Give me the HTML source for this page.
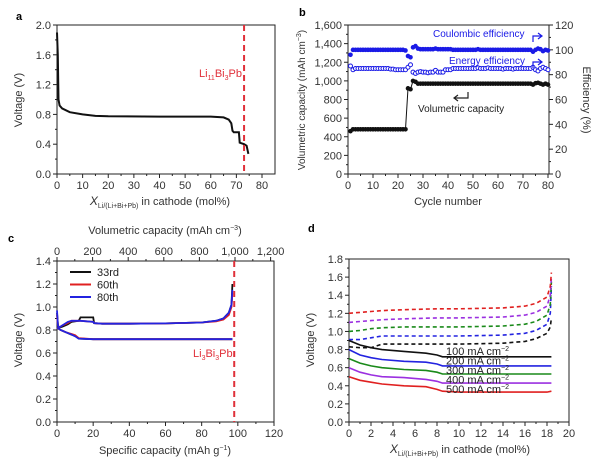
<!DOCTYPE html>
<html><head><meta charset="utf-8">
<style>
html,body{margin:0;padding:0;background:#fff;}
svg{display:block;font-family:"Liberation Sans",Arial,sans-serif;}
</style></head>
<body>
<svg id="fig" width="600" height="468" viewBox="0 0 600 468" xmlns="http://www.w3.org/2000/svg"></svg>
<script>
// ---------- Panel a data ----------
const aX = [0,0.3,0.6,1,2,5,10,15,20,40,60,65,67,68,68.5,69,71,71.3,73,74,74.5,74.7];
const aV = [1.9,1.6,1.0,0.92,0.88,0.83,0.80,0.78,0.775,0.77,0.77,0.76,0.73,0.68,0.58,0.56,0.56,0.42,0.40,0.38,0.30,0.27];
const aXTicks = [0,10,20,30,40,50,60,70,80];
const aYTicks = [0,0.4,0.8,1.2,1.6,2.0];
// ---------- Panel b data ----------
const bCycles = [1,2,3,4,5,6,7,8,9,10,11,12,13,14,15,16,17,18,19,20,21,22,23,24,25,26,27,28,29,30,31,32,33,34,35,36,37,38,39,40,41,42,43,44,45,46,47,48,49,50,51,52,53,54,55,56,57,58,59,60,61,62,63,64,65,66,67,68,69,70,71,72,73,74,75,76,77,78,79,80];
const bCapacity = [460,480,480,480,480,480,480,480,480,480,480,480,480,480,480,480,480,480,480,480,480,480,480,920,910,1000,990,970,970,970,970,970,970,970,970,970,970,970,970,970,970,970,970,970,970,970,970,970,970,970,970,970,970,970,970,970,970,970,970,970,970,970,970,970,970,970,970,970,970,970,970,970,970,960,975,980,970,960,970,960];
const bCE = [96,100,100,100,100,100,100,100,100,100,100,100,100,100,100,100,100,100,100,100,100,100,99.5,95,94,102,103,101,100.5,100.5,100.5,100.5,100.5,100.5,101,100.5,100.5,100.5,100.5,100.5,100.5,100,100,100,100,100,100,100,100,100,100,100.5,100,100,100,100,100,100,100,100,100,100,100,100,100,100,100,100,100,100,100,100,100,98.5,100,101,100.5,99,100,99.5];
const bEE = [87,84,85,85,85,85,85,85,85,85,85,85,85,85,85,85,84.5,84.5,84,84,84,84,84,86,88,82,81,82,82.5,82,82,81.5,82,82,83.5,82,82,82,84,84,84,85,85,85,85,85,85,85,85,85,85,85.5,85,85,85,85.5,85,85,85,85,85,84.5,85,85,85,84.5,85,85,85,85,85,85,85,86,84,83,85,86,85,84];
const bXTicks = [0,10,20,30,40,50,60,70,80];
const bYTicks = [0,200,400,600,800,1000,1200,1400,1600];
const bYTickLabels = ["0","200","400","600","800","1,000","1,200","1,400","1,600"];
const bY2Ticks = [0,20,40,60,80,100,120];
// ---------- Panel c data ----------
const cChX = [0,0.5,1,3,6,8,12,13,20,20.5,25,40,60,80,88,92,95,96.5,97];
const cCh33 = [0.95,0.85,0.82,0.83,0.85,0.87,0.88,0.91,0.91,0.86,0.855,0.855,0.857,0.865,0.88,0.9,0.95,1.02,1.2];
const cCh60 = [0.93,0.84,0.82,0.84,0.86,0.88,0.88,0.88,0.87,0.86,0.855,0.855,0.857,0.865,0.875,0.89,0.93,1.0,1.12];
const cCh80 = [0.97,0.84,0.82,0.84,0.87,0.88,0.88,0.88,0.87,0.86,0.855,0.855,0.857,0.865,0.88,0.9,0.95,1.02,1.15];
const cDisX = [0,2,5,8,10,12,20,50,97];
const cDis33 = [0.82,0.8,0.78,0.76,0.75,0.725,0.72,0.72,0.72];
const cDis60 = [0.82,0.8,0.78,0.765,0.755,0.73,0.72,0.72,0.72];
const cDis80 = [0.82,0.8,0.78,0.76,0.745,0.725,0.72,0.72,0.72];
const cXTicks = [0,20,40,60,80,100,120];
const cYTicks = [0,0.2,0.4,0.6,0.8,1.0,1.2,1.4];
const cTopTicks = [0,200,400,600,800,1000,1200];
const cTopLabels = ["0","200","400","600","800","1,000","1,200"];
// ---------- Panel d data ----------
const dDisX = [0,1,2,3,5,7,8,8.5,10,14,16,17,18,18.4];
const dDis100 = [0.9,0.85,0.82,0.80,0.78,0.76,0.74,0.72,0.72,0.72,0.72,0.72,0.72,0.72];
const dDis200 = [0.80,0.74,0.71,0.69,0.67,0.66,0.64,0.62,0.62,0.62,0.62,0.62,0.62,0.62];
const dDis300 = [0.70,0.65,0.62,0.60,0.58,0.57,0.55,0.53,0.53,0.53,0.53,0.53,0.53,0.53];
const dDis400 = [0.60,0.55,0.52,0.50,0.49,0.47,0.45,0.43,0.43,0.43,0.43,0.43,0.43,0.43];
const dDis500 = [0.50,0.46,0.44,0.42,0.40,0.39,0.36,0.34,0.33,0.33,0.33,0.33,0.33,0.34];
const dChX = [0,1,2,3,5,8,10,14,16,17,18,18.3,18.4];
const dCh100 = [0.83,0.82,0.82,0.86,0.86,0.86,0.86,0.87,0.89,0.92,0.98,1.05,1.15];
const dCh200 = [0.91,0.91,0.93,0.95,0.95,0.95,0.95,0.96,0.98,1.01,1.08,1.2,1.5];
const dCh300 = [1.0,1.01,1.03,1.04,1.05,1.05,1.05,1.06,1.08,1.11,1.18,1.3,1.55];
const dCh400 = [1.1,1.11,1.12,1.13,1.14,1.15,1.15,1.16,1.18,1.21,1.28,1.4,1.6];
const dCh500 = [1.2,1.21,1.22,1.23,1.24,1.25,1.25,1.26,1.28,1.31,1.38,1.5,1.65];
const dXTicks = [0,2,4,6,8,10,12,14,16,18,20];
const dYTicks = [0,0.2,0.4,0.6,0.8,1.0,1.2,1.4,1.6,1.8];

const NS="http://www.w3.org/2000/svg";
const fig=document.getElementById('fig');
function mk(tag,attrs,parent){const e=document.createElementNS(NS,tag);for(const k in attrs)e.setAttribute(k,attrs[k]);(parent||fig).appendChild(e);return e;}
function txt(x,y,s,size,anchor,color,parent,rot){const e=mk('text',{x:x,y:y,'font-size':size,'text-anchor':anchor||'middle',fill:color||'#333'},parent);if(rot)e.setAttribute('transform','rotate('+rot+' '+x+' '+y+')');e.innerHTML=s;return e;}
function scale(d0,d1,r0,r1){return v=>r0+(v-d0)/(d1-d0)*(r1-r0);}
function pathD(xs,ys,sx,sy){return xs.map((x,i)=>(i?'L':'M')+sx(x).toFixed(1)+' '+sy(ys[i]).toFixed(1)).join(' ');}

function frame(g,L,T,R,B){
  const f=mk('rect',{x:L,y:T,width:R-L,height:B-T,fill:'none',stroke:'#222','stroke-width':1},g);
  
  
}
function xAxis(g,ticks,sx,y,labels,below){
  const ax=mk('g',{},g);
  
  
  ticks.forEach((t,i)=>{const x=sx(t);
    mk('line',{x1:x,x2:x,y1:y,y2:below?y+4:y-4,stroke:'#222'},ax);
    if(i<ticks.length-1){const xm=sx((t+ticks[i+1])/2);mk('line',{x1:xm,x2:xm,y1:y,y2:below?y+2:y-2,stroke:'#222'},ax);}
    const lb=txt(x,below?y+15:y-6,labels?labels[i]:String(t),11,'middle','#333',ax);
    
    
  });
}
function yAxis(g,ticks,sy,x,labels,right,dec){
  const ax=mk('g',{},g);
  
  
  ticks.forEach((t,i)=>{const y=sy(t);
    mk('line',{x1:x,x2:right?x+4:x-4,y1:y,y2:y,stroke:'#222'},ax);
    if(i<ticks.length-1){const ym=sy((t+ticks[i+1])/2);mk('line',{x1:x,x2:right?x+2:x-2,y1:ym,y2:ym,stroke:'#222'},ax);}
    const s=labels?labels[i]:(dec?t.toFixed(dec):String(t));
    const lb=txt(right?x+6:x-6,y+4,s,11,right?'start':'end','#333',ax);
    
    
  });
}
function panelLabel(x,y,s){const e=txt(x,y,s,11,'start','#000');e.setAttribute('font-weight','bold');}
function series(g,xs,ys,sx,sy,color,w,dash,name){
  const p=mk('path',{d:pathD(xs,ys,sx,sy),fill:'none',stroke:color,'stroke-width':w||1.5},g);
  if(dash)p.setAttribute('stroke-dasharray',dash);
  
  
  return p;
}

// ================= Panel a =================
(function(){
  const g=mk('g',{});
  const L=57,R=275,T=25,B=174;
  const sx=scale(0,80,57,262), sy=scale(0,2,B,T);
  frame(g,L,T,R,B);
  xAxis(g,aXTicks,sx,B,null,true);
  yAxis(g,aYTicks,sy,L,null,false,1);
  series(g,aX,aV,sx,sy,'#111',2,null,'voltage-curve');
  const dl=mk('line',{x1:sx(73),x2:sx(73),y1:T,y2:B,stroke:'#e0303a','stroke-width':2,'stroke-dasharray':'6,4'},g);
  
  const t=txt(199,77,'Li<tspan font-size="7" dy="3">11</tspan><tspan dy="-3">Bi</tspan><tspan font-size="7" dy="3">3</tspan><tspan dy="-3">Pb</tspan>',11,'start','#e0303a',g);
  
  const yt=txt(22,100,'Voltage (V)',11,'middle','#333',g,-90);
  const xt=txt(160,205,'<tspan font-style="italic" font-size="12">X</tspan><tspan font-size="7" dy="3">Li/(Li+Bi+Pb)</tspan><tspan dy="-3"> in cathode (mol%)</tspan>',11,'middle','#333',g);
  
})();
panelLabel(16,20,'a');

// ================= Panel b =================
(function(){
  const g=mk('g',{});
  const L=348,R=549,T=25,B=174;
  const sx=scale(0,80,348,548), sy=scale(0,1600,B,T), sy2=scale(0,120,B,T);
  frame(g,L,T,R,B);
  xAxis(g,bXTicks,sx,B,null,true);
  yAxis(g,bYTicks,sy,L,bYTickLabels,false);
  yAxis(g,bY2Ticks,sy2,R,null,true);
  series(g,bCycles,bCapacity,sx,sy,'#111',1,null,'volumetric-capacity-line');
  bCycles.forEach((c,i)=>{
    const p=mk('circle',{cx:sx(c),cy:sy(bCapacity[i]),r:2.3,fill:'#111'},g);
    
    const q=mk('circle',{cx:sx(c),cy:sy2(bCE[i]),r:2.3,fill:'#1a1ae6'},g);
    
    const r=mk('circle',{cx:sx(c),cy:sy2(bEE[i]),r:2,fill:'#fff',stroke:'#1a1ae6','stroke-width':1},g);
    
  });
  let t=txt(433,37,'Coulombic efficiency',10,'start','#1a1ae6',g);
  let a=mk('path',{d:'M533 42 V36 H541 M538 33 L542 36 L538 39',fill:'none',stroke:'#1a1ae6','stroke-width':1.2},g);
  t=txt(449,64,'Energy efficiency',10,'start','#1a1ae6',g);
  a=mk('path',{d:'M533 68 V62 H541 M538 59 L542 62 L538 65',fill:'none',stroke:'#1a1ae6','stroke-width':1.2},g);
  t=txt(418,112,'Volumetric capacity',10,'start','#222',g);
  a=mk('path',{d:'M468 92 V98 H455 M458 95 L454 98 L458 101',fill:'none',stroke:'#222','stroke-width':1.2},g);
  t=txt(305,100,'Volumetric capacity (mAh cm<tspan font-size="7" dy="-4">−3</tspan><tspan dy="4">)</tspan>',10,'middle','#333',g,-90);
  t=txt(583,100,'Efficiency (%)',11,'middle','#333',g,90);
  t=txt(448,205,'Cycle number',11,'middle','#333',g);
})();
panelLabel(299,16,'b');

// ================= Panel c =================
(function(){
  const g=mk('g',{});
  const L=57,R=274,T=261,B=422;
  const sx=scale(0,120,57,274), sy=scale(0,1.4,B,T), stop=scale(0,1000,57,235);
  frame(g,L,T,R,B);
  xAxis(g,cXTicks,sx,B,null,true);
  yAxis(g,cYTicks,sy,L,null,false,1);
  xAxis(g,cTopTicks,stop,T,cTopLabels,false);
  series(g,cDisX,cDis33,sx,sy,'#111',1.8,null,'discharge-33rd');
  series(g,cDisX,cDis60,sx,sy,'#e02020',1.8,null,'discharge-60th');
  series(g,cDisX,cDis80,sx,sy,'#2323e0',1.8,null,'discharge-80th');
  series(g,cChX,cCh33,sx,sy,'#111',1.8,null,'charge-33rd');
  series(g,cChX,cCh60,sx,sy,'#e02020',1.8,null,'charge-60th');
  series(g,cChX,cCh80,sx,sy,'#2323e0',1.8,null,'charge-80th');
  const dl=mk('line',{x1:sx(98),x2:sx(98),y1:T,y2:B,stroke:'#e0303a','stroke-width':2,'stroke-dasharray':'6,4'},g);
  
  let t=txt(193,357,'Li<tspan font-size="7" dy="3">3</tspan><tspan dy="-3">Bi</tspan><tspan font-size="7" dy="3">3</tspan><tspan dy="-3">Pb</tspan>',11,'start','#e0303a',g);
  
  const leg=[['33rd','#111'],['60th','#e02020'],['80th','#2323e0']];
  leg.forEach((l,i)=>{const y=272+i*12.5;
    const ln=mk('line',{x1:70,x2:91,y1:y,y2:y,stroke:l[1],'stroke-width':2},g);
    const lt=txt(97,y+4,l[0],11,'start','#222',g);});
  t=txt(22,340,'Voltage (V)',11,'middle','#333',g,-90);
  t=txt(165,454,'Specific capacity (mAh g<tspan font-size="7" dy="-4">−1</tspan><tspan dy="4">)</tspan>',11,'middle','#333',g);
  t=txt(165,234,'Volumetric capacity (mAh cm<tspan font-size="7" dy="-4">−3</tspan><tspan dy="4">)</tspan>',11,'middle','#333',g);
})();
panelLabel(8,242,'c');

// ================= Panel d =================
(function(){
  const g=mk('g',{});
  const L=349,R=569,T=259,B=422;
  const sx=scale(0,20,349,569), sy=scale(0,1.8,B,T);
  frame(g,L,T,R,B);
  xAxis(g,dXTicks,sx,B,null,true);
  yAxis(g,dYTicks,sy,L,null,false,1);
  const cols=['#111','#2323e0','#1a8a1a','#9b30e0','#e02020'];
  const dis=[dDis100,dDis200,dDis300,dDis400,dDis500];
  const ch=[dCh100,dCh200,dCh300,dCh400,dCh500];
  const rates=['100','200','300','400','500'];
  ch.forEach((s,i)=>series(g,dChX,s,sx,sy,cols[i],1.6,'4,3','charge-'+rates[i]));
  dis.forEach((s,i)=>series(g,dDisX,s,sx,sy,cols[i],1.6,null,'discharge-'+rates[i]));
  rates.forEach((r,i)=>{const t=txt(446,355+i*9.5,r+' mA cm<tspan font-size="7" dy="-4">−2</tspan>',11,'start','#222',g);
    });
  let t=txt(314,340,'Voltage (V)',11,'middle','#333',g,-90);
  t=txt(460,453,'<tspan font-style="italic" font-size="12">X</tspan><tspan font-size="7" dy="3">Li/(Li+Bi+Pb)</tspan><tspan dy="-3"> in cathode (mol%)</tspan>',11,'middle','#333',g);
  
})();
panelLabel(308,232,'d');
</script>
</body></html>
